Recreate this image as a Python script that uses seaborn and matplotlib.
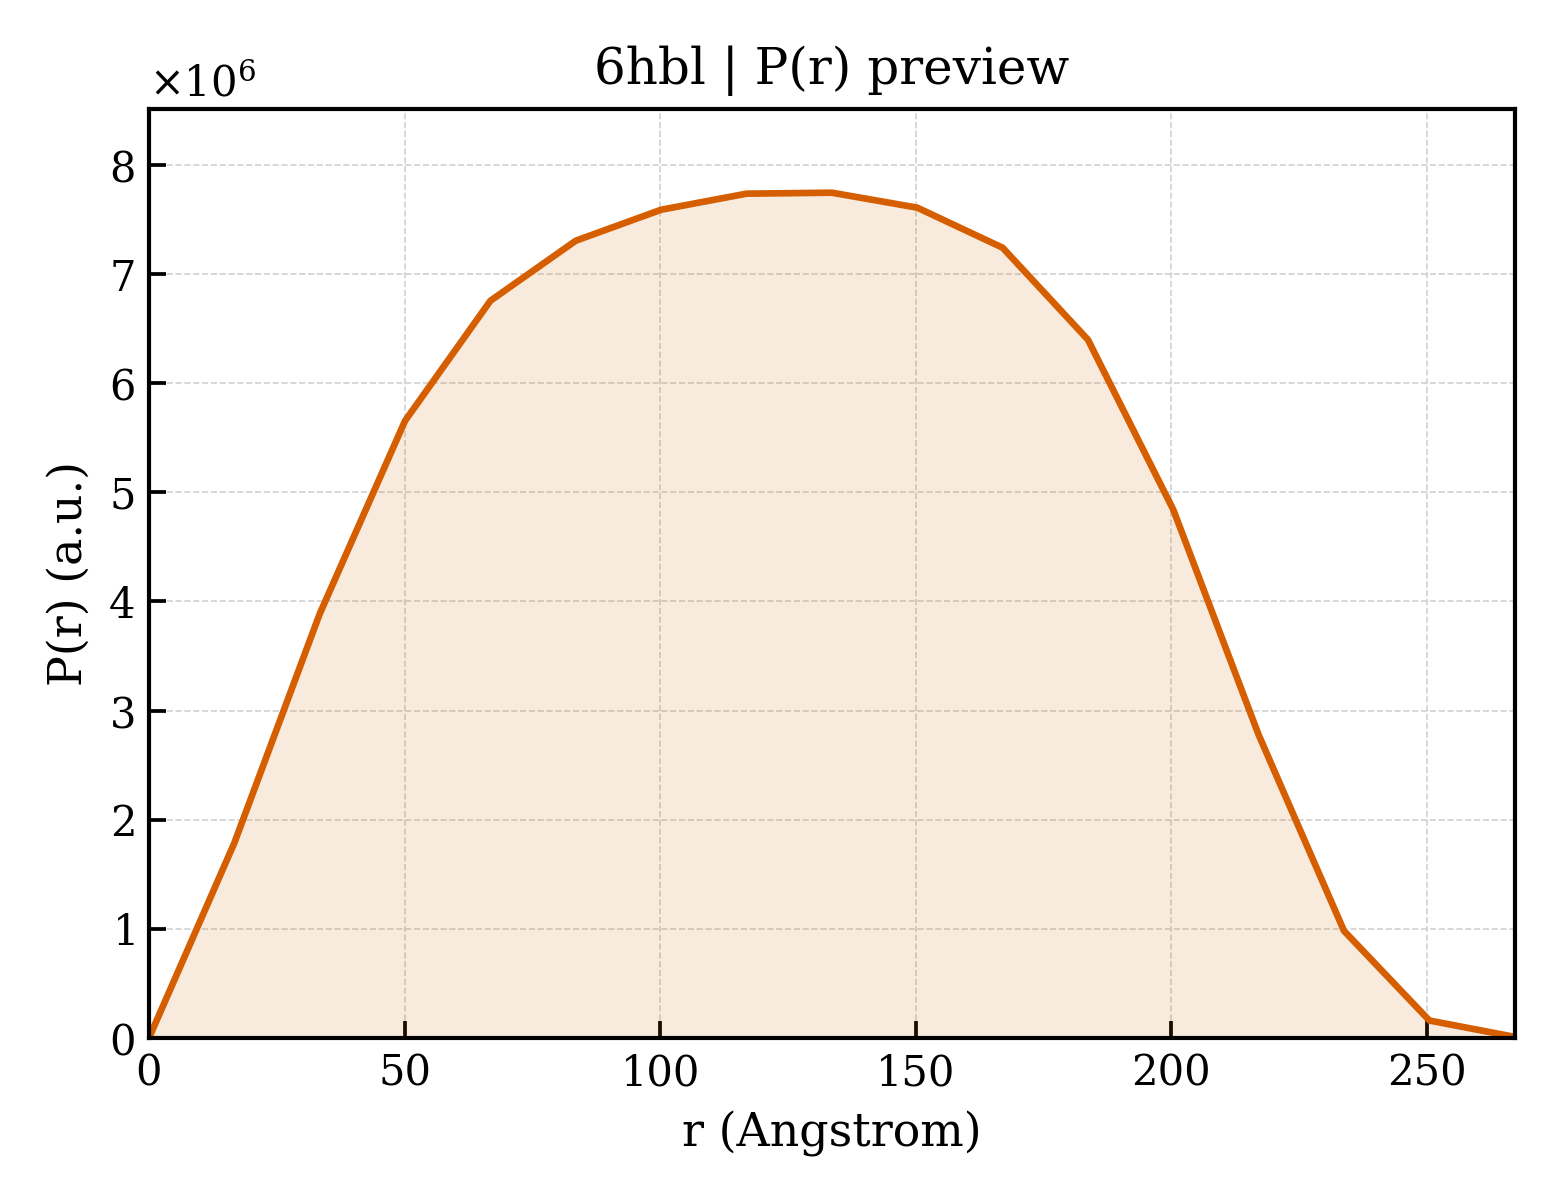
import numpy as np
import pandas as pd
import matplotlib
matplotlib.use("Agg")
import matplotlib.pyplot as plt
import seaborn as sns

r_values = [0.0, 16.7, 33.4, 50.1, 66.8, 83.5, 100.2, 116.9, 133.6, 150.3,
            167.0, 183.7, 200.4, 217.1, 233.8, 250.5, 267.2]
p_values = [0.0, 1.787e6, 3.886e6, 5.655e6, 6.755e6, 7.305e6, 7.589e6, 7.736e6, 7.745e6,
            7.608e6, 7.241e6, 6.398e6, 4.840e6, 2.777e6, 0.981e6, 0.160e6, 0.010e6]

title = "6hbl | P(r) preview"
xlabel = "r (Angstrom)"
ylabel = "P(r) (a.u.)"

sns.set_theme(style="white")
plt.rcParams['font.family'] = ['DejaVu Serif']
plt.rcParams['mathtext.fontset'] = 'dejavuserif'
plt.rcParams['text.color'] = 'black'
plt.rcParams['axes.labelcolor'] = 'black'

df = pd.DataFrame({"r": r_values, "P": p_values})
color = "#d55e00"

fig = plt.figure(figsize=(5.2, 4.0), dpi=300)
ax = fig.add_axes([0.0955, 0.135, 0.8755, 0.774])
ax.fill_between(df["r"], df["P"], 0, color=color, alpha=0.13, linewidth=0)
sns.lineplot(data=df, x="r", y="P", ax=ax, color=color, linewidth=1.6)

ax.set_xlim(0, max(r_values))
ax.set_ylim(0, 8.51e6)
ax.set_xticks([0, 50, 100, 150, 200, 250])
ax.set_title(title, fontsize=12, color="black")
ax.set_xlabel(xlabel, fontsize=11, color="black")
ax.set_ylabel(ylabel, fontsize=11, color="black")
ax.ticklabel_format(axis="y", style="sci", scilimits=(0, 0), useMathText=True)
ax.yaxis.get_offset_text().set_fontsize(10)
ax.yaxis.get_offset_text().set_color("black")
ax.tick_params(direction="in", length=4, width=0.9, labelsize=10, colors="black",
               left=True, bottom=True)
ax.grid(True, linestyle="--", linewidth=0.4, color="#cccccc", alpha=0.9)
for s in ax.spines.values():
    s.set_color("black")
    s.set_linewidth(1.0)

fig.savefig("out.png", dpi=300)
